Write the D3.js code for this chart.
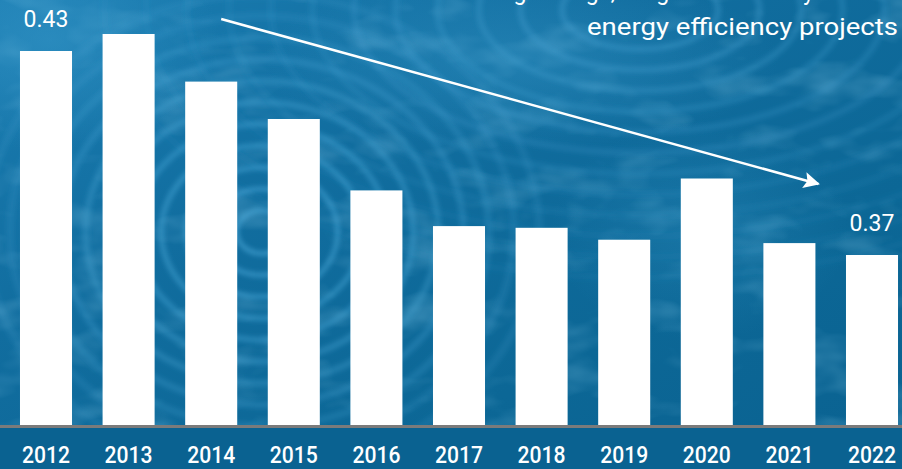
<!DOCTYPE html>
<html>
<head>
<meta charset="utf-8">
<script src="https://cdn.jsdelivr.net/npm/d3@7"></script>
<style>
  html, body { margin: 0; padding: 0; background: #0f6a99; overflow: hidden; }
  svg { display: block; }
</style>
</head>
<body>
<div id="chart"></div>
<script>
// ---- data ----
const years = ["2012","2013","2014","2015","2016","2017","2018","2019","2020","2021","2022"];
const values = [0.430, 0.435, 0.421, 0.410, 0.389, 0.3785, 0.378, 0.3745, 0.3925, 0.3735, 0.370];
const labelledYears = ["2012", "2022"];
const labelTexts = ["0.43", "0.37"];
const titleLines = ["Declining savings, in kg CO2 saved by utilities'", "energy efficiency projects"];
const trendFrom = ["2014", 0.4394];
const trendTo = ["2021", 0.3909];

// ---- layout ----
const W = 902, H = 469;
const baseY = 425;

const svg = d3.select("#chart").append("svg")
  .attr("width", W).attr("height", H)
  .attr("viewBox", `0 0 ${W} ${H}`);

const defs = svg.append("defs");

// background gradients
const bg = defs.append("linearGradient").attr("id", "bg")
  .attr("x1", "0").attr("y1", "0").attr("x2", "1").attr("y2", "1");
bg.append("stop").attr("offset", "0%").attr("stop-color", "#1b7db2");
bg.append("stop").attr("offset", "35%").attr("stop-color", "#116d9f");
bg.append("stop").attr("offset", "70%").attr("stop-color", "#0c6796");
bg.append("stop").attr("offset", "100%").attr("stop-color", "#0a6291");

const glow = defs.append("radialGradient").attr("id", "glow")
  .attr("cx", "0.5").attr("cy", "0.5").attr("r", "0.5");
glow.append("stop").attr("offset", "0%").attr("stop-color", "#3a9bcc").attr("stop-opacity", 0.5);
glow.append("stop").attr("offset", "100%").attr("stop-color", "#3a9bcc").attr("stop-opacity", 0);

const blur = defs.append("filter").attr("id", "blur")
  .attr("x", "-20%").attr("y", "-20%").attr("width", "140%").attr("height", "140%");
blur.append("feGaussianBlur").attr("stdDeviation", 2.5);

const noise = defs.append("filter").attr("id", "noise")
  .attr("x", 0).attr("y", 0).attr("width", "100%").attr("height", "100%");
noise.append("feTurbulence").attr("type", "fractalNoise")
  .attr("baseFrequency", "0.015 0.03").attr("numOctaves", 3).attr("seed", 7);
noise.append("feColorMatrix").attr("type", "matrix")
  .attr("values", "0 0 0 0 0.25  0 0 0 0 0.6  0 0 0 0 0.82  0 0 0 1.8 -0.9");

// background
const bgG = svg.append("g").attr("class", "background");
bgG.append("rect").attr("width", W).attr("height", H).attr("fill", "url(#bg)");
bgG.append("rect").attr("width", W).attr("height", H).attr("filter", "url(#noise)").attr("opacity", 0.4);

// soft light patches
bgG.append("ellipse").attr("cx", 50).attr("cy", 40).attr("rx", 170).attr("ry", 110).attr("fill", "url(#glow)");
bgG.append("ellipse").attr("cx", 520).attr("cy", 60).attr("rx", 260).attr("ry", 90).attr("fill", "url(#glow)").attr("opacity", 0.8);
bgG.append("ellipse").attr("cx", 700).attr("cy", 230).attr("rx", 150).attr("ry", 110).attr("fill", "url(#glow)").attr("opacity", 0.5);

// ripple rings
const rings = d3.range(24, 280, 24);
bgG.append("g").attr("filter", "url(#blur)")
  .selectAll("ellipse").data(rings).join("ellipse")
  .attr("cx", 262).attr("cy", 232)
  .attr("rx", d => d * 1.05).attr("ry", d => d * 0.9)
  .attr("fill", "none")
  .attr("stroke", "#4aa8d8")
  .attr("stroke-width", d => 4 + d / 70)
  .attr("stroke-opacity", d => Math.max(0.15, 0.7 - d / 450));

const rings2 = d3.range(60, 420, 32);
bgG.append("g").attr("filter", "url(#blur)")
  .selectAll("ellipse").data(rings2).join("ellipse")
  .attr("cx", 640).attr("cy", 10)
  .attr("rx", d => d * 1.3).attr("ry", d => d * 0.65)
  .attr("fill", "none")
  .attr("stroke", "#4aa6d6")
  .attr("stroke-width", 6)
  .attr("stroke-opacity", d => Math.max(0.08, 0.4 - d / 1100));

// bottom band
bgG.append("rect").attr("x", 0).attr("y", baseY).attr("width", W).attr("height", H - baseY)
  .attr("fill", "#0a6291");

// ---- scales ----
const x = d3.scaleBand().domain(years).range([4.7, 913.3])
  .paddingInner(0.37).paddingOuter(0.185);
const y = d3.scaleLinear().domain([0.32, 0.445]).range([baseY, 0]);

// ---- bars ----
svg.append("g").attr("class", "bars")
  .selectAll("rect").data(years).join("rect")
  .attr("x", d => x(d))
  .attr("y", (d, i) => y(values[i]))
  .attr("width", x.bandwidth())
  .attr("height", (d, i) => baseY - y(values[i]))
  .attr("fill", "#ffffff");

// ---- axis ----
const axis = svg.append("g").attr("class", "x-axis")
  .attr("transform", `translate(0,${baseY})`)
  .call(d3.axisBottom(x).tickSize(0).tickSizeOuter(0));
axis.select(".domain").remove();
axis.append("line")
  .attr("x1", 0).attr("x2", W).attr("y1", 1.5).attr("y2", 1.5)
  .attr("stroke", "#7b7b7b").attr("stroke-width", 3);
axis.selectAll(".tick text")
  .attr("y", 38).attr("dy", 0)
  .attr("fill", "#ffffff")
  .attr("font-family", "Roboto, 'Noto Sans', sans-serif")
  .attr("font-weight", 500)
  .attr("font-size", 24)
  .attr("textLength", 48)
  .attr("lengthAdjust", "spacingAndGlyphs");

// ---- value labels ----
svg.append("g").attr("class", "value-labels")
  .selectAll("text").data(labelledYears).join("text")
  .attr("x", d => x(d) + x.bandwidth() / 2)
  .attr("y", d => y(values[years.indexOf(d)]) - 24)
  .attr("text-anchor", "middle")
  .attr("fill", "#ffffff")
  .attr("font-family", "Roboto, 'Noto Sans', sans-serif")
  .attr("font-size", 23)
  .attr("font-weight", 400)
  .text((d, i) => labelTexts[i]);

// ---- trend arrow ----
defs.append("marker").attr("id", "arrowhead")
  .attr("viewBox", "0 0 10 10").attr("refX", 9).attr("refY", 5)
  .attr("markerWidth", 6.5).attr("markerHeight", 6.5).attr("markerUnits", "strokeWidth")
  .attr("orient", "auto")
  .append("path").attr("d", "M0,0 L10,5 L0,10 L2,5 Z").attr("fill", "#ffffff");

svg.append("line").attr("class", "trend")
  .attr("x1", x(trendFrom[0]) + 36).attr("y1", y(trendFrom[1]))
  .attr("x2", x(trendTo[0]) + 55).attr("y2", y(trendTo[1]))
  .attr("stroke", "#ffffff").attr("stroke-width", 2.5)
  .attr("marker-end", "url(#arrowhead)");

// ---- annotation text ----
const title = svg.append("text").attr("class", "annotation")
  .attr("text-anchor", "end")
  .attr("fill", "#ffffff")
  .attr("font-family", "Roboto, 'Noto Sans', sans-serif")
  .attr("font-weight", 400)
  .attr("font-size", 23);
title.append("tspan").attr("x", 898).attr("y", 0).text(titleLines[0]);
title.append("tspan").attr("x", 898).attr("y", 35)
  .attr("textLength", 311).attr("lengthAdjust", "spacingAndGlyphs")
  .text(titleLines[1]);
</script>
</body>
</html>
